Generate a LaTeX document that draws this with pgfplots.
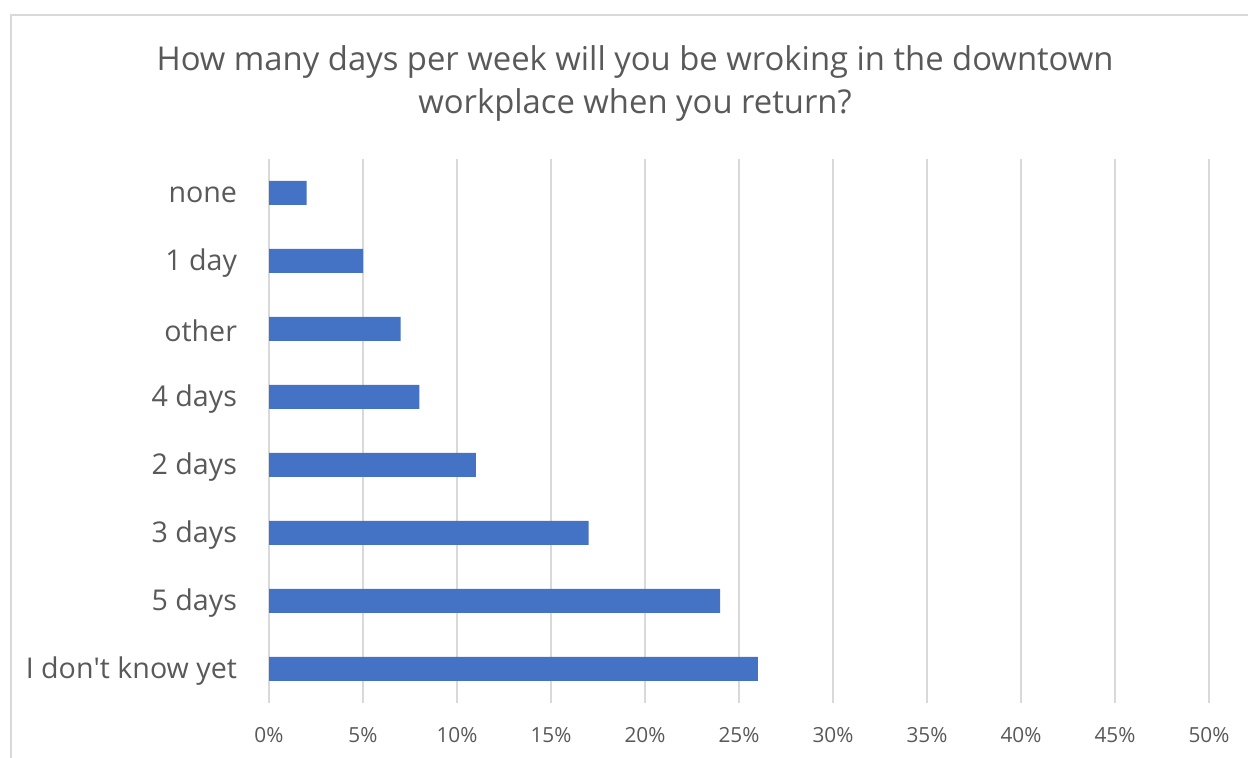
\documentclass[border=0pt]{standalone}
\usepackage{pgfplots}
\pgfplotsset{compat=1.18}
\usepackage{fontspec}
\setmainfont{Open Sans}
\definecolor{barc}{HTML}{4472C4}
\definecolor{gridc}{HTML}{D9D9D9}
\definecolor{txt}{HTML}{595959}
\begin{document}
\begin{tikzpicture}
\useasboundingbox (0,0) rectangle (624pt,379pt);
\draw[gridc, line width=1pt] (5.5pt,-20pt) -- (5.5pt,371.5pt) -- (660pt,371.5pt);
\node[txt, anchor=base, font=\fontsize{16.4}{19}\selectfont] at (317.5pt,343.5pt) {How many days per week will you be wroking in the downtown};
\node[txt, anchor=base, font=\fontsize{16.4}{19}\selectfont] at (317.5pt,322pt) {workplace when you return?};
\begin{axis}[
  at={(134.5pt,27.5pt)}, anchor=south west,
  scale only axis, width=470pt, height=272pt,
  xbar, bar width=12pt,
  xmin=0, xmax=50, ymin=-0.5, ymax=7.5,
  xtick={0,5,...,50},
  xticklabels={0\%,5\%,10\%,15\%,20\%,25\%,30\%,35\%,40\%,45\%,50\%},
  ytick={0,...,7},
  yticklabels={I don\textquotesingle t know yet,5 days,3 days,2 days,4 days,other,1 day,none},
  xmajorgrids, major grid style={gridc, line width=1pt},
  axis line style={draw=none},
  major tick length=0pt,
  tick label style={txt},
  xticklabel style={font=\fontsize{10.4}{12}\selectfont, yshift=-8.5pt},
  yticklabel style={font=\fontsize{14.3}{17}\selectfont, xshift=-12.5pt, yshift=-1pt},
  clip=false,
]
\addplot[fill=barc, draw=none] coordinates {(26,0) (24,1) (17,2) (11,3) (8,4) (7,5) (5,6) (2,7)};
\end{axis}
\end{tikzpicture}
\end{document}
